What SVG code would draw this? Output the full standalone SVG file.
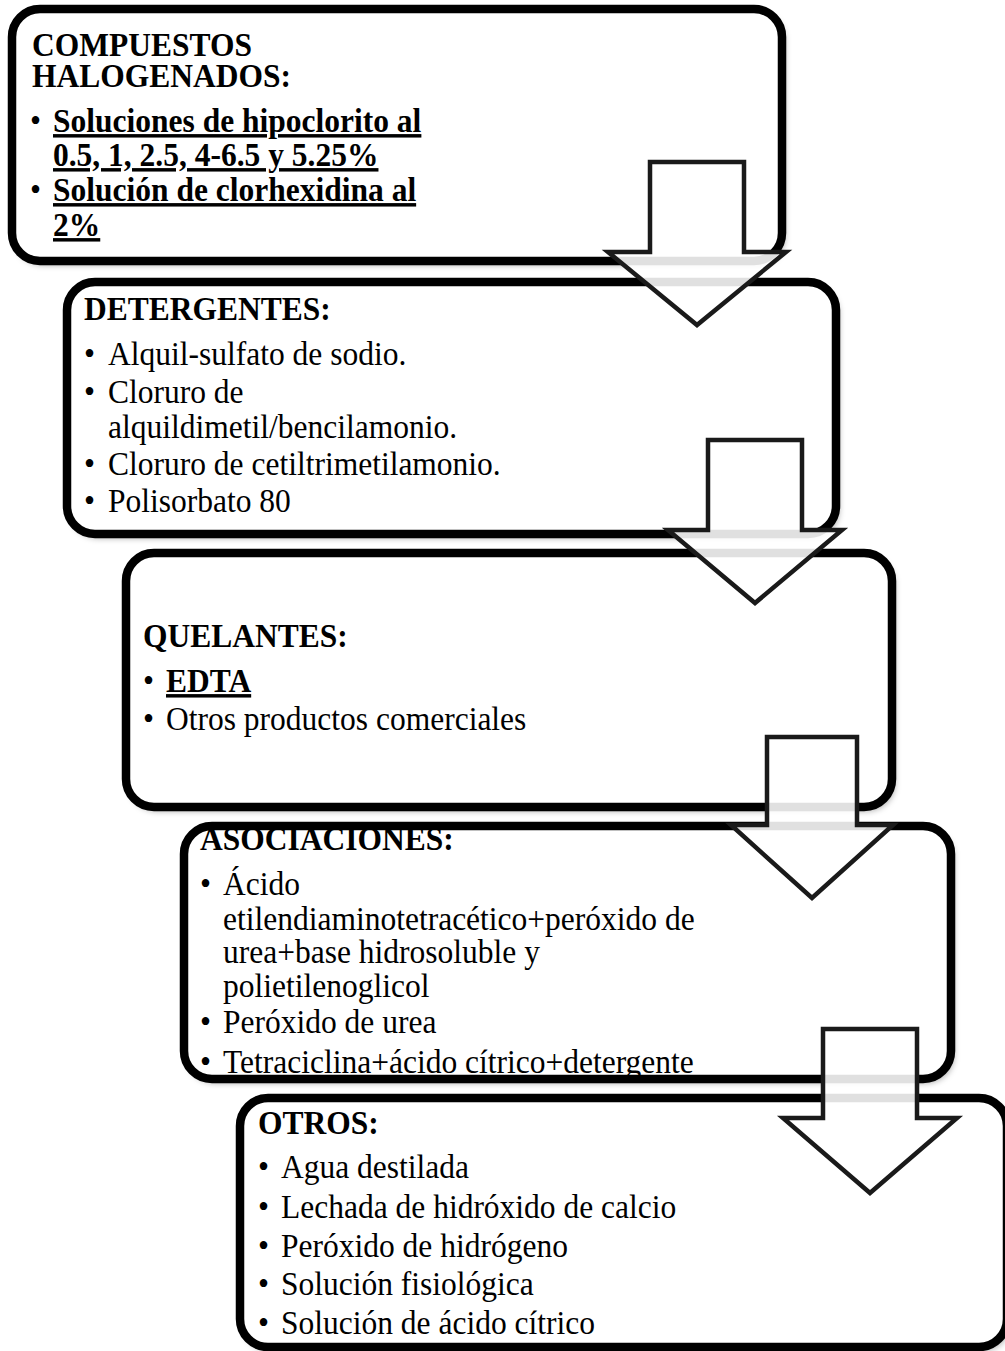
<svg xmlns="http://www.w3.org/2000/svg" width="1005" height="1351" viewBox="0 0 1005 1351">
<style>
.box{fill:#fff;stroke:none;filter:url(#sh)}
.edge{fill:none;stroke:#000;stroke-width:8.5}
text{font-family:"Liberation Serif","Times New Roman",serif;font-size:31.5px;fill:#000}
.b{font-weight:bold}
.u{text-decoration:underline;text-decoration-thickness:3px;text-underline-offset:4px}
.arrow{fill:#fff;fill-opacity:0.88;stroke:#1a1a1a;stroke-width:4.5;stroke-linejoin:miter}
</style>
<defs>
<filter id="sh" x="-5%" y="-5%" width="112%" height="115%">
<feDropShadow dx="3" dy="4" stdDeviation="3" flood-color="#000" flood-opacity="0.35"/>
</filter>
<clipPath id="c1"><rect x="8" y="5" width="778" height="260" rx="30"/></clipPath>
<clipPath id="c2"><rect x="63" y="278" width="777" height="260" rx="30"/></clipPath>
<clipPath id="c3"><rect x="122" y="549" width="774" height="262" rx="30"/></clipPath>
<clipPath id="c4"><rect x="180" y="822" width="775" height="257" rx="30"/></clipPath>
<clipPath id="c5"><rect x="236" y="1094" width="775" height="258" rx="30"/></clipPath>
</defs>
<rect width="1005" height="1351" fill="#fff"/>

<g id="node1">
<rect class="box" x="12" y="9" width="770" height="252" rx="28"/>
<g clip-path="url(#c1)">
<text class="b" transform="translate(32,56) scale(1,1.1)">COMPUESTOS</text>
<text class="b" transform="translate(32,87) scale(1,1.1)">HALOGENADOS:</text>
<text transform="translate(30,132) scale(1,1.1)">•</text>
<text class="b u" transform="translate(53,132) scale(1,1.1)">Soluciones de hipoclorito al</text>
<text class="b u" transform="translate(53,166) scale(1,1.1)">0.5, 1, 2.5, 4-6.5 y 5.25%</text>
<text transform="translate(30,201) scale(1,1.1)">•</text>
<text class="b u" transform="translate(53,201) scale(1,1.1)">Solución de clorhexidina al</text>
<text class="b u" transform="translate(53,236) scale(1,1.1)">2%</text>
</g>
<rect class="edge" x="12" y="9" width="770" height="252" rx="28"/>
</g>

<g id="node2">
<rect class="box" x="67" y="282" width="769" height="252" rx="28"/>
<g clip-path="url(#c2)">
<text class="b" transform="translate(84,320) scale(1,1.1)">DETERGENTES:</text>
<text transform="translate(84,365) scale(1,1.1)">•</text>
<text transform="translate(108,365) scale(1,1.1)">Alquil-sulfato de sodio.</text>
<text transform="translate(84,403) scale(1,1.1)">•</text>
<text transform="translate(108,403) scale(1,1.1)">Cloruro de</text>
<text transform="translate(108,438) scale(1,1.1)">alquildimetil/bencilamonio.</text>
<text transform="translate(84,475) scale(1,1.1)">•</text>
<text transform="translate(108,475) scale(1,1.1)">Cloruro de cetiltrimetilamonio.</text>
<text transform="translate(84,512) scale(1,1.1)">•</text>
<text transform="translate(108,512) scale(1,1.1)">Polisorbato 80</text>
</g>
<rect class="edge" x="67" y="282" width="769" height="252" rx="28"/>
</g>

<g id="node3">
<rect class="box" x="126" y="553" width="766" height="254" rx="28"/>
<g clip-path="url(#c3)">
<text class="b" transform="translate(143,647) scale(1,1.1)">QUELANTES:</text>
<text transform="translate(143,692) scale(1,1.1)">•</text>
<text class="b u" transform="translate(166,692) scale(1,1.1)">EDTA</text>
<text transform="translate(143,730) scale(1,1.1)">•</text>
<text transform="translate(166,730) scale(1,1.1)">Otros productos comerciales</text>
</g>
<rect class="edge" x="126" y="553" width="766" height="254" rx="28"/>
</g>

<g id="node4">
<rect class="box" x="184" y="826" width="767" height="253" rx="28"/>
<g clip-path="url(#c4)">
<text class="b" transform="translate(200,850) scale(1,1.1)">ASOCIACIONES:</text>
<text transform="translate(200,895) scale(1,1.1)">•</text>
<text transform="translate(223,895) scale(1,1.1)">Ácido</text>
<text transform="translate(223,930) scale(1,1.1)">etilendiaminotetracético+peróxido de</text>
<text transform="translate(223,963) scale(1,1.1)">urea+base hidrosoluble y</text>
<text transform="translate(223,997) scale(1,1.1)">polietilenoglicol</text>
<text transform="translate(200,1033) scale(1,1.1)">•</text>
<text transform="translate(223,1033) scale(1,1.1)">Peróxido de urea</text>
<text transform="translate(200,1073) scale(1,1.1)">•</text>
<text transform="translate(223,1073) scale(1,1.1)">Tetraciclina+ácido cítrico+detergente</text>
</g>
<rect class="edge" x="184" y="826" width="767" height="253" rx="28"/>
</g>

<g id="node5">
<rect class="box" x="240" y="1098" width="767" height="249" rx="28"/>
<g clip-path="url(#c5)">
<text class="b" transform="translate(258,1134) scale(1,1.1)">OTROS:</text>
<text transform="translate(258,1178) scale(1,1.1)">•</text>
<text transform="translate(281,1178) scale(1,1.1)">Agua destilada</text>
<text transform="translate(258,1218) scale(1,1.1)">•</text>
<text transform="translate(281,1218) scale(1,1.1)">Lechada de hidróxido de calcio</text>
<text transform="translate(258,1257) scale(1,1.1)">•</text>
<text transform="translate(281,1257) scale(1,1.1)">Peróxido de hidrógeno</text>
<text transform="translate(258,1295) scale(1,1.1)">•</text>
<text transform="translate(281,1295) scale(1,1.1)">Solución fisiológica</text>
<text transform="translate(258,1334) scale(1,1.1)">•</text>
<text transform="translate(281,1334) scale(1,1.1)">Solución de ácido cítrico</text>
</g>
<rect class="edge" x="240" y="1098" width="767" height="249" rx="28"/>
</g>

<g id="connectors">
<path class="arrow" d="M650,162 H744 V252 H786 L697,325 L608,252 H650 Z"/>
<path class="arrow" d="M708,440 H802 V530 H842 L755,603 L668,530 H708 Z"/>
<path class="arrow" d="M767,737 H857 V825 H893 L812,898 L731,825 H767 Z"/>
<path class="arrow" d="M823,1029 H917 V1118 H957 L870,1193 L783,1118 H823 Z"/>
</g>
</svg>
